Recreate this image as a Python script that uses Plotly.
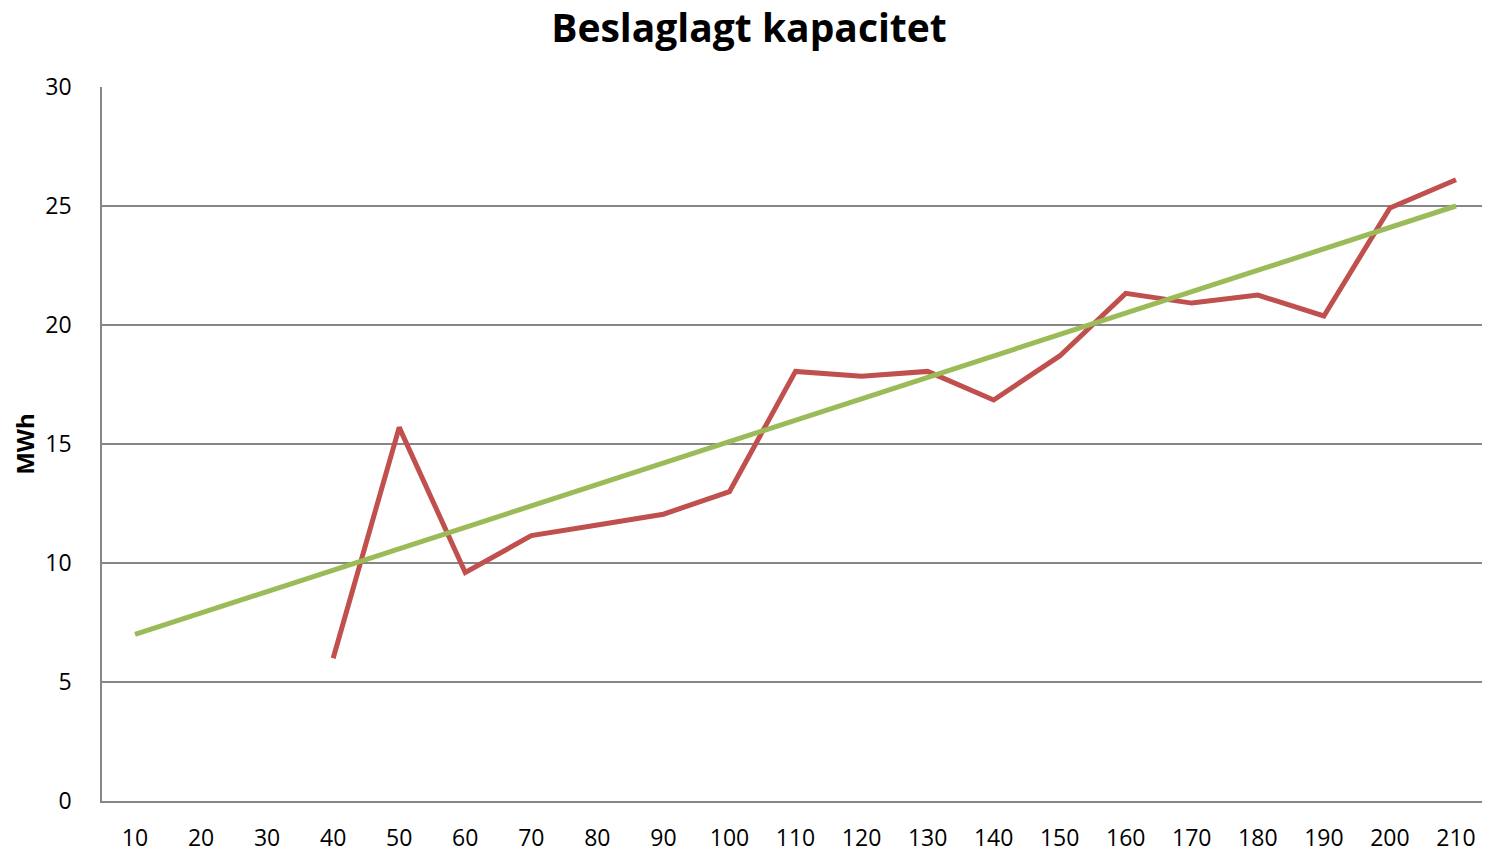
import plotly.graph_objects as go

categories = ["10", "20", "30", "40", "50", "60", "70", "80", "90", "100", "110",
              "120", "130", "140", "150", "160", "170", "180", "190", "200", "210"]
capacity = [None, None, None, 6.0, 15.7, 9.6, 11.15, 11.6, 12.05, 13.0, 18.05,
            17.85, 18.05, 16.85, 18.7, 21.33, 20.92, 21.26, 20.38, 24.92, 26.1]
trend = [7.0, 7.9, 8.8, 9.7, 10.6, 11.5, 12.4, 13.3, 14.2, 15.1, 16.0,
         16.9, 17.8, 18.7, 19.6, 20.5, 21.4, 22.3, 23.2, 24.1, 25.0]
y_ticks = [0, 5, 10, 15, 20, 25, 30]

fig = go.Figure()
fig.add_trace(go.Scatter(x=categories, y=capacity, mode="lines",
                         line=dict(color="#C0504D", width=5), connectgaps=False,
                         showlegend=False))
fig.add_trace(go.Scatter(x=categories, y=trend, mode="lines",
                         line=dict(color="#9BBB59", width=5), showlegend=False))

# page body adds an 8px offset, so the figure is sized to the visible area
fig.update_layout(
    width=1482, height=845,
    margin=dict(l=94, r=1, t=79, b=52, autoexpand=False),
    paper_bgcolor="white", plot_bgcolor="white",
    font=dict(family="Open Sans", color="black"),
    title=dict(text="<b>Beslaglagt kapacitet</b>", x=0.5, xanchor="center",
               y=0.992, yanchor="top", font=dict(size=39, family="Open Sans"),
               automargin=False),
    xaxis=dict(type="category", range=[-0.5, 20.5], showgrid=False,
               showline=True, linecolor="#868686", linewidth=1.5,
               ticks="", tickfont=dict(size=23), ticklabelstandoff=16,
               automargin=False),
    yaxis=dict(range=[0, 30], tickvals=y_ticks, showgrid=True,
               gridcolor="#868686", gridwidth=1.5, zeroline=False,
               showline=True, linecolor="#868686", linewidth=1.5,
               ticks="", tickfont=dict(size=23), ticklabelstandoff=24,
               automargin=False,
               title=dict(text="<b>MWh</b>", font=dict(size=24), standoff=20)),
)
fig.write_html("out.html")
